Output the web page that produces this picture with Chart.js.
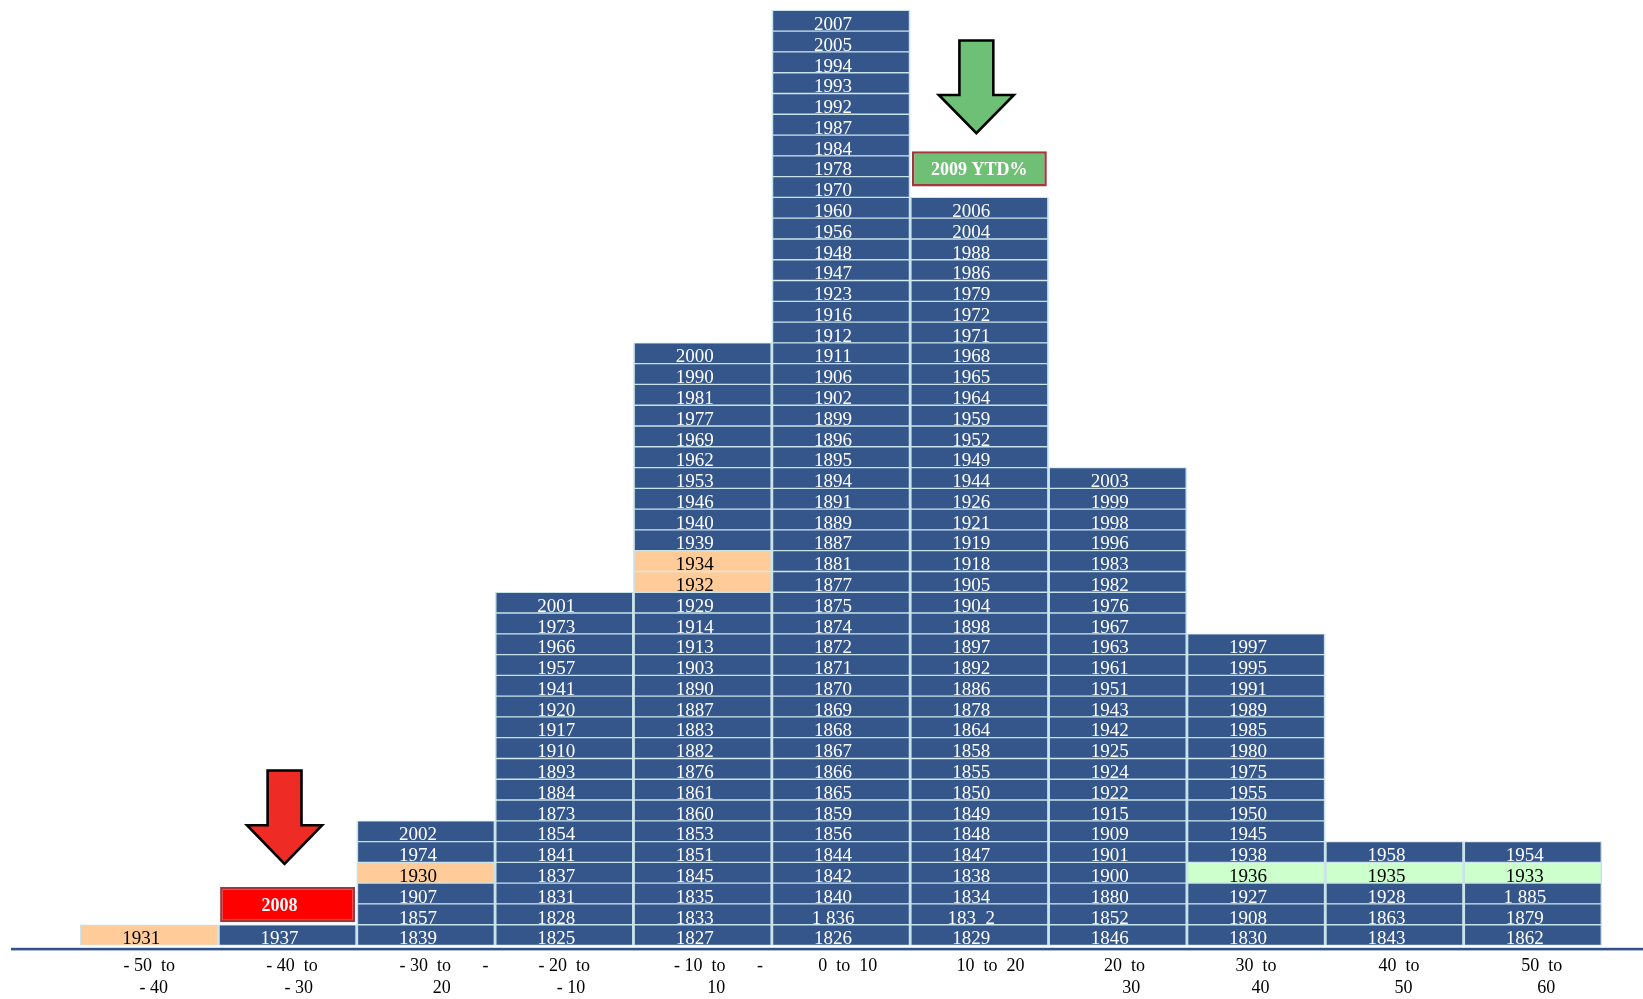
<!DOCTYPE html>
<html>
<head>
<meta charset="utf-8">
<title>Annual returns histogram</title>
<script src="https://cdn.jsdelivr.net/npm/chart.js@4/dist/chart.umd.min.js"></script>
<style>
  html, body { margin: 0; padding: 0; background: #ffffff; }
  #wrap { width: 1643px; height: 999px; position: relative; }
</style>
</head>
<body>
<div id="wrap"><canvas id="chart"></canvas></div>
<script>
// Return bins (percent), two-line tick labels as laid out under each column
const binLabels = [
  ['- 50  to', '  - 40'],
  ['  - 40  to', '     - 30'],
  ['        - 30  to       -', '       20'],
  ['- 20  to', '   - 10'],
  ['       - 10  to       -', '      10'],
  ['   0  to  10'],
  ['     10  to  20'],
  ['   20  to', '      30'],
  ['30  to', '  40'],
  ['  40  to', '    50'],
  ['    50  to', '      60']
];

// Years falling in each bin, listed from the bottom of the stack upwards
const yearsBinM50 = ['1931'];
const yearsBinM40 = ['1937'];
const yearsBinM30 = ['1839', '1857', '1907', '1930', '1974', '2002'];
const yearsBinM20 = ['1825', '1828', '1831', '1837', '1841', '1854', '1873', '1884', '1893',
  '1910', '1917', '1920', '1941', '1957', '1966', '1973', '2001'];
const yearsBinM10 = ['1827', '1833', '1835', '1845', '1851', '1853', '1860', '1861', '1876',
  '1882', '1883', '1887', '1890', '1903', '1913', '1914', '1929', '1932', '1934', '1939',
  '1940', '1946', '1953', '1962', '1969', '1977', '1981', '1990', '2000'];
const yearsBin0 = ['1826', '1 836', '1840', '1842', '1844', '1856', '1859', '1865', '1866',
  '1867', '1868', '1869', '1870', '1871', '1872', '1874', '1875', '1877', '1881', '1887',
  '1889', '1891', '1894', '1895', '1896', '1899', '1902', '1906', '1911', '1912', '1916',
  '1923', '1947', '1948', '1956', '1960', '1970', '1978', '1984', '1987', '1992', '1993',
  '1994', '2005', '2007'];
const yearsBin10 = ['1829', '183  2', '1834', '1838', '1847', '1848', '1849', '1850', '1855',
  '1858', '1864', '1878', '1886', '1892', '1897', '1898', '1904', '1905', '1918', '1919',
  '1921', '1926', '1944', '1949', '1952', '1959', '1964', '1965', '1968', '1971', '1972',
  '1979', '1986', '1988', '2004', '2006'];
const yearsBin20 = ['1846', '1852', '1880', '1900', '1901', '1909', '1915', '1922', '1924',
  '1925', '1942', '1943', '1951', '1961', '1963', '1967', '1976', '1982', '1983', '1996',
  '1998', '1999', '2003'];
const yearsBin30 = ['1830', '1908', '1927', '1936', '1938', '1945', '1950', '1955', '1975',
  '1980', '1985', '1989', '1991', '1995', '1997'];
const yearsBin40 = ['1843', '1863', '1928', '1935', '1958'];
const yearsBin50 = ['1862', '1879', '1 885', '1933', '1954'];

const yearsByBin = [yearsBinM50, yearsBinM40, yearsBinM30, yearsBinM20, yearsBinM10,
  yearsBin0, yearsBin10, yearsBin20, yearsBin30, yearsBin40, yearsBin50];

// Depression-era years shaded separately
const crashYears = ['1930', '1931', '1932', '1934'];
const reboundYears = ['1933', '1935', '1936'];

// Highlighted recent years placed above their bins
const markerLabels = ['2008', '2009 YTD%'];
const markerBins = [1, 6];

// ---- styling ----
const SERIF = '"Liberation Serif", "Times New Roman", serif';
const BLUE = '#34568B';
const EDGE = '#C8E3E9';
const PEACH = '#FFCC99';
const MINT = '#CCFFCC';

function cellFill(year) {
  if (crashYears.includes(year)) return PEACH;
  if (reboundYears.includes(year)) return MINT;
  return BLUE;
}
function cellInk(year) {
  return (crashYears.includes(year) || reboundYears.includes(year)) ? '#000000' : '#ffffff';
}

// One floating-bar dataset per stack level; each cell spans one unit
const rowCount = Math.max(...yearsByBin.map(c => c.length));
const datasets = [];
for (let r = 0; r < rowCount; r++) {
  datasets.push({
    data: yearsByBin.map(col => (r < col.length ? [r, r + 1] : null)),
    cellText: yearsByBin.map(col => (r < col.length ? col[r] : null)),
    cellInk: yearsByBin.map(col => (r < col.length ? cellInk(col[r]) : null)),
    backgroundColor: yearsByBin.map(col => (r < col.length ? cellFill(col[r]) : BLUE)),
    borderColor: EDGE,
    borderWidth: { top: 1, bottom: 1, left: 1.75, right: 1.75 },
    borderSkipped: false,
    grouped: false,
    barPercentage: 1,
    categoryPercentage: 1
  });
}

// Marker boxes sit a little above the top of their bin's stack
const markerGaps = [0.12, 0.52];
const markerHeight = 1.7;
const markerFills = ['#FF0000', '#6FBF74'];
datasets.push({
  data: yearsByBin.map((col, i) => {
    const k = markerBins.indexOf(i);
    if (k < 0) return null;
    const lo = col.length + markerGaps[k];
    return [lo, lo + markerHeight];
  }),
  cellText: yearsByBin.map((col, i) => {
    const k = markerBins.indexOf(i);
    return k < 0 ? null : markerLabels[k];
  }),
  isMarker: true,
  backgroundColor: yearsByBin.map((col, i) => {
    const k = markerBins.indexOf(i);
    return k < 0 ? BLUE : markerFills[k];
  }),
  borderColor: '#A2373D',
  borderWidth: 2.5,
  borderSkipped: false,
  grouped: false,
  barPercentage: 0.975,
  categoryPercentage: 1
});

// Draws the year inside every cell and the bold marker captions
const cellLabels = {
  id: 'cellLabels',
  afterDatasetsDraw(chart) {
    const ctx = chart.ctx;
    ctx.save();
    ctx.textAlign = 'center';
    chart.data.datasets.forEach((ds, di) => {
      const meta = chart.getDatasetMeta(di);
      meta.data.forEach((el, i) => {
        const txt = ds.cellText[i];
        if (!txt) return;
        if (ds.isMarker) {
          ctx.font = 'bold 18px ' + SERIF;
          ctx.fillStyle = '#ffffff';
          ctx.textBaseline = 'middle';
          const dx = i === markerBins[0] ? -8 : 0;
          ctx.fillText(txt, el.x + dx, (el.y + el.base) / 2 + 1.5);
        } else {
          ctx.font = '19px ' + SERIF;
          ctx.fillStyle = ds.cellInk[i];
          ctx.textBaseline = 'alphabetic';
          ctx.fillText(txt, el.x - 8, el.base - 1.2);
        }
      });
    });
    ctx.restore();
  }
};

// Baseline rule under the columns and the two pointer arrows
const decorations = {
  id: 'decorations',
  afterDatasetsDraw(chart, args, opts) {
    const ctx = chart.ctx;
    const xs = chart.scales.x;
    const ys = chart.scales.y;
    const binW = xs.width / xs.ticks.length;
    ctx.save();
    // axis rule
    ctx.fillStyle = '#31518A';
    ctx.fillRect(11, ys.getPixelForValue(0) + 2.3, chart.width - 11, 2.6);
    // arrows
    opts.arrows.forEach(a => {
      const cx = xs.getPixelForValue(a.bin) - 3;
      const shaft = binW * 0.245 / 2;
      const head = binW * 0.542 / 2;
      const yTip = ys.getPixelForValue(a.tip);
      const yNeck = ys.getPixelForValue(a.neck);
      const yTail = ys.getPixelForValue(a.tail);
      ctx.beginPath();
      ctx.moveTo(cx - shaft, yTail);
      ctx.lineTo(cx + shaft, yTail);
      ctx.lineTo(cx + shaft, yNeck);
      ctx.lineTo(cx + head, yNeck);
      ctx.lineTo(cx, yTip);
      ctx.lineTo(cx - head, yNeck);
      ctx.lineTo(cx - shaft, yNeck);
      ctx.closePath();
      ctx.fillStyle = a.fill;
      ctx.fill();
      ctx.lineWidth = 2.6;
      ctx.lineJoin = 'miter';
      ctx.strokeStyle = '#000000';
      ctx.stroke();
    });
    ctx.restore();
  }
};

new Chart(document.getElementById('chart'), {
  type: 'bar',
  data: { labels: binLabels, datasets },
  plugins: [cellLabels, decorations],
  options: {
    responsive: true,
    maintainAspectRatio: false,
    animation: false,
    layout: { padding: { left: 80, right: 41, top: 0, bottom: 0 } },
    plugins: {
      legend: { display: false },
      tooltip: { enabled: false },
      decorations: {
        arrows: [
          { bin: 1, tip: 3.93, neck: 5.79, tail: 8.42, fill: '#EE2B24' },
          { bin: 6, tip: 39.09, neck: 40.93, tail: 43.55, fill: '#6FC077' }
        ]
      }
    },
    scales: {
      x: {
        grid: { display: false, drawTicks: false },
        border: { display: false },
        ticks: {
          color: '#000000',
          font: { family: SERIF, size: 18, lineHeight: 1.25 },
          padding: 9.5,
          maxRotation: 0,
          autoSkip: false
        },
        afterFit(scale) { scale.height = 53.5; }
      },
      y: {
        display: false,
        min: 0,
        max: 45.5
      }
    }
  }
});
</script>
</body>
</html>
